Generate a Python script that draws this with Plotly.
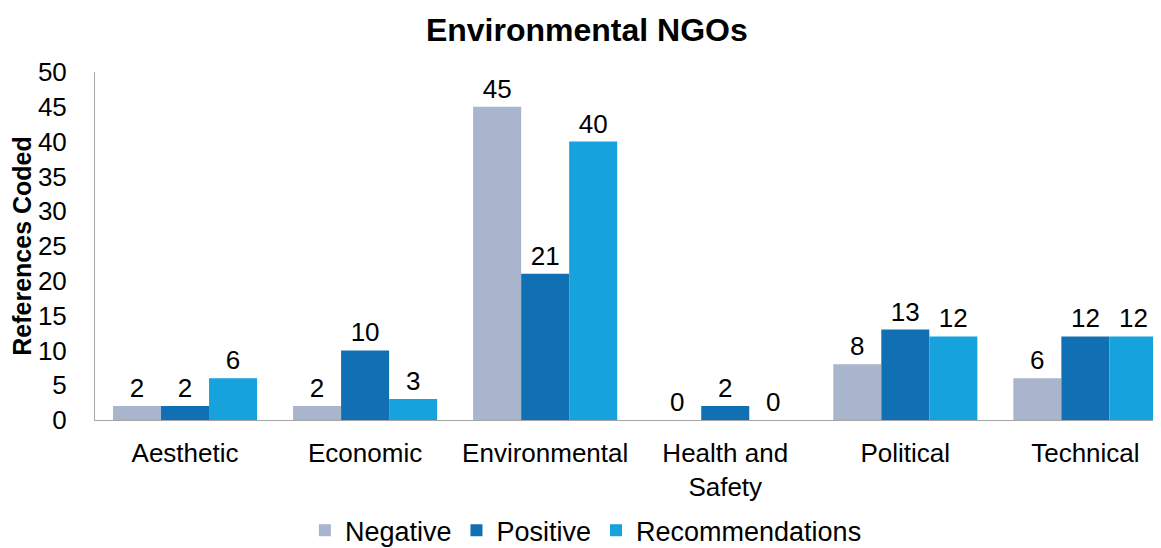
import plotly.graph_objects as go

categories = ["Aesthetic", "Economic", "Environmental", "Health and<br>Safety", "Political", "Technical"]
negative = [2, 2, 45, 0, 8, 6]
positive = [2, 10, 21, 2, 13, 12]
recommendations = [6, 3, 40, 0, 12, 12]
series = [("Negative", negative, "#A9B4CD"), ("Positive", positive, "#1170B3"), ("Recommendations", recommendations, "#15A2DD")]

font = "Liberation Sans, Arial, sans-serif"
fig = go.Figure()
for name, vals, col in series:
    fig.add_trace(go.Bar(
        x=categories, y=vals, name=name, marker=dict(color=col, line=dict(width=0)),
        text=[str(v) for v in vals], textposition="outside",
        textfont=dict(family=font, size=26, color="#000"), cliponaxis=False,
    ))

fig.update_layout(
    width=1153, height=540, barmode="group", bargap=0.2, bargroupgap=0,
    paper_bgcolor="white", plot_bgcolor="white",
    margin=dict(l=87, r=0, t=64, b=128, autoexpand=False),
    title=dict(text="<b>Environmental NGOs</b>", x=0.502, xanchor="center", y=0.959, yanchor="middle",
               font=dict(family=font, size=32, color="#000")),
    font=dict(family=font, color="#000"),
    xaxis=dict(range=[-0.5, 5.42], showline=True, linecolor="#A6A6A6", linewidth=1, ticks="",
               tickfont=dict(size=26, color="#000"), showgrid=False, automargin=False, ticklabelstandoff=10),
    yaxis=dict(range=[0, 50], dtick=5, showline=True, linecolor="#A6A6A6", linewidth=1, showgrid=False, zeroline=False,
               ticks="", tickfont=dict(size=26, color="#000"), ticklabelstandoff=22, automargin=False,
               title=dict(text="<b>References Coded</b>", font=dict(size=25, color="#000"), standoff=3)),
    legend=dict(orientation="h", x=0.4605, xanchor="center", y=-0.318, yanchor="middle",
                font=dict(size=27, color="#000"), itemwidth=30, traceorder="normal"),
)
fig.write_html("out.html")
